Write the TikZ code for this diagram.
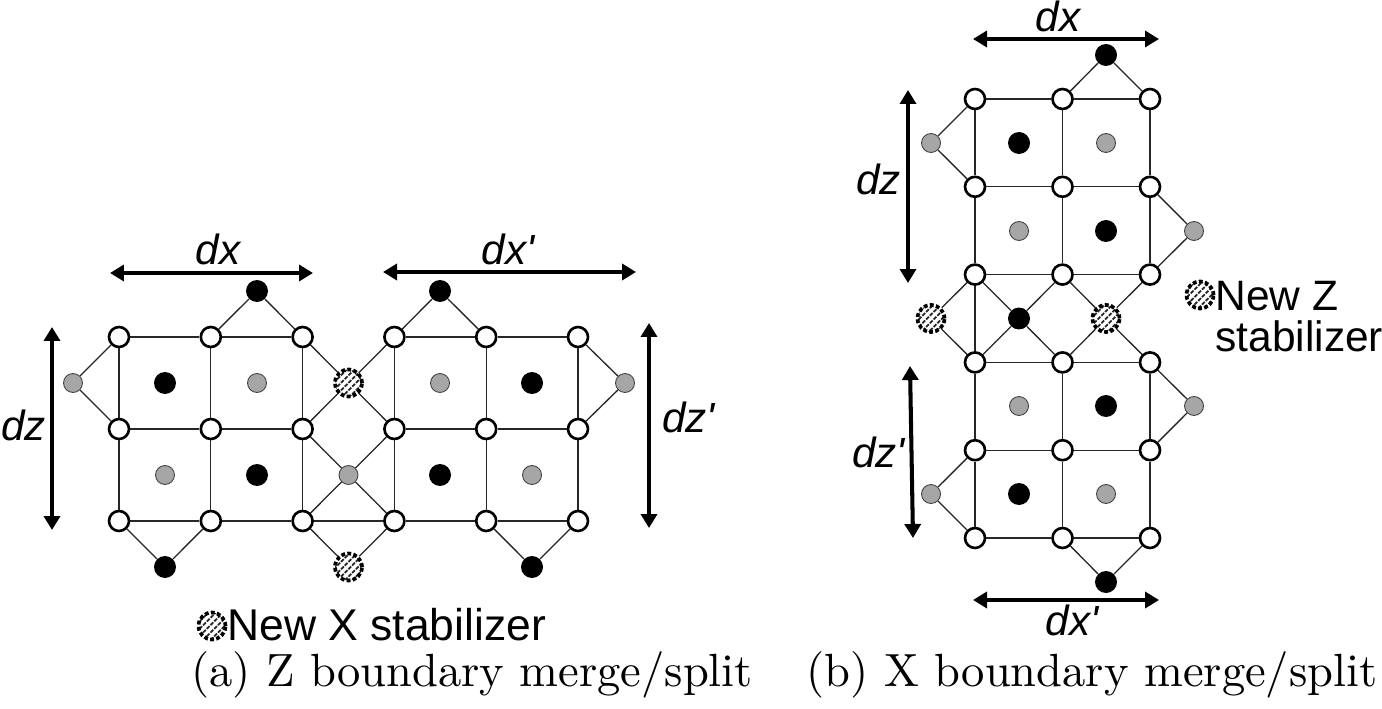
\documentclass[tikz,border=0pt]{standalone}
\usepackage{fontspec}
\newfontfamily\arialfont{Liberation Sans}
\newfontfamily\capfont{lmroman10-regular.otf}
\usetikzlibrary{arrows.meta,patterns.meta}

\begin{document}
\begin{tikzpicture}[x=0.02cm, y=-0.02cm,
    dataq/.style={circle, draw=black, line width=1.5pt, fill=white, minimum size=0.4cm, inner sep=0pt},
    xstab/.style={circle, fill=black, minimum size=0.44cm, inner sep=0pt},
    zstab/.style={circle, draw=black!75, line width=0.5pt, fill=black!35, minimum size=0.38cm, inner sep=0pt},
    newstab/.style={circle, draw=black, line width=2.1pt, dash pattern=on 2.2pt off 1.3pt, preaction={fill=white},
        pattern={Lines[angle=45, distance=3pt, line width=1pt]}, pattern color=black!85, minimum size=0.54cm, inner sep=0pt},
    link/.style={line width=0.75pt, draw=black!85},
    dimarrow/.style={line width=2.3pt, {Triangle[length=0.28cm,width=0.32cm]}-{Triangle[length=0.28cm,width=0.32cm]}},
    lbl/.style={font=\arialfont\itshape\fontsize{24}{28}\selectfont, inner sep=0pt},
    legtext/.style={font=\arialfont\fontsize{#1}{23.4}\selectfont, inner sep=0pt},
    capt/.style={font=\capfont\fontsize{26.5}{30}\selectfont, inner sep=0pt}]
    \useasboundingbox (0,0) rectangle (1382,709);

    % (a) data qubits
    \foreach \c in {1,...,6}
        \foreach \r in {1,2,3}
            \node[dataq] (a\c\r) at ({27.2+91.8*\c},{245+92*\r}) {};
    \foreach \r in {1,2,3}
        \foreach \c/\d in {1/2,2/3,4/5,5/6}
            \draw[link] (a\c\r) -- (a\d\r);
    \foreach \c in {1,...,6}
        \foreach \r/\s in {1/2,2/3}
            \draw[link] (a\c\r) -- (a\c\s);
    \draw[link] (a33) -- (a43);

    % (a) boundary stabilizers
    \node[xstab] (ax1) at (257,291) {};
    \node[xstab] (ax2) at (440,291) {};
    \node[xstab] (ax3) at (165,567) {};
    \node[xstab] (ax4) at (532,567) {};
    \node[zstab] (az1) at (73,383) {};
    \node[zstab] (az2) at (625,383) {};
    \draw[link] (a21) -- (ax1) -- (a31);
    \draw[link] (a41) -- (ax2) -- (a51);
    \draw[link] (a13) -- (ax3) -- (a23);
    \draw[link] (a53) -- (ax4) -- (a63);
    \draw[link] (a11) -- (az1) -- (a12);
    \draw[link] (a61) -- (az2) -- (a62);

    % (a) bulk stabilizers
    \foreach \x/\y/\s [count=\i] in {165/383/xstab, 257/383/zstab, 165/475/zstab, 257/475/xstab,
        440/383/zstab, 532/383/xstab, 440/475/xstab, 532/475/zstab}
        \node[\s] (ap\i) at (\x,\y) {};

    % (a) merged region
    \node[newstab] (anew1) at (348.5,383) {};
    \node[zstab] (amid) at (348.5,475) {};
    \node[newstab] (anew2) at (348.5,567) {};
    \draw[link] (a31) -- (anew1) -- (a42);
    \draw[link] (a41) -- (anew1) -- (a32);
    \draw[link] (a32) -- (amid) -- (a43);
    \draw[link] (a42) -- (amid) -- (a33);
    \draw[link] (a33) -- (anew2) -- (a43);

    % (a) distances
    \coordinate (dxaL) at (110,273);
    \coordinate (dxaR) at (313,273);
    \coordinate (dxpaL) at (383,272);
    \coordinate (dxpaR) at (636,272);
    \coordinate (dzaT) at (52,327);
    \coordinate (dzaB) at (52,530);
    \coordinate (dzpaT) at (649,323);
    \coordinate (dzpaB) at (649,528);
    \draw[dimarrow] (dxaL) -- (dxaR);
    \draw[dimarrow] (dxpaL) -- (dxpaR);
    \draw[dimarrow] (dzaT) -- (dzaB);
    \draw[dimarrow] (dzpaT) -- (dzpaB);
    \node[lbl, anchor=base] (dxa) at (218,265) {dx};
    \node[lbl, anchor=base] (dxpa) at (508,265) {dx'};
    \node[lbl, anchor=base east] (dza) at (46,440) {dz};
    \node[lbl, anchor=base west] (dzpa) at (662,432) {dz'};

    % (a) legend and caption
    \node[newstab] (akey) at (212,626) {};
    \node[legtext=25.3, anchor=base west] (akeytxt) at (227,640) {New X stabilizer};
    \node[capt, anchor=base] (capa) at (472,686) {(a) Z boundary merge/split};

    % (b) data qubits
    \foreach \c in {1,2,3}
        \foreach \r in {1,...,6}
            \node[dataq] (b\c\r) at ({887.5+87.5*\c},{11.2+87.8*\r}) {};
    \foreach \r in {1,...,6}
        \foreach \c/\d in {1/2,2/3}
            \draw[link] (b\c\r) -- (b\d\r);
    \foreach \c in {1,2,3}
        \foreach \r/\s in {1/2,2/3,4/5,5/6}
            \draw[link] (b\c\r) -- (b\c\s);
    \draw[link] (b13) -- (b14);

    % (b) boundary stabilizers
    \node[xstab] (bx1) at (1106,55) {};
    \node[xstab] (bx2) at (1106,582) {};
    \node[zstab] (bz1) at (931,143) {};
    \node[zstab] (bz2) at (1194,231) {};
    \node[zstab] (bz3) at (1194,406) {};
    \node[zstab] (bz4) at (931,494) {};
    \draw[link] (b21) -- (bx1) -- (b31);
    \draw[link] (b26) -- (bx2) -- (b36);
    \draw[link] (b11) -- (bz1) -- (b12);
    \draw[link] (b32) -- (bz2) -- (b33);
    \draw[link] (b34) -- (bz3) -- (b35);
    \draw[link] (b15) -- (bz4) -- (b16);

    % (b) bulk stabilizers
    \foreach \x/\y/\s [count=\i] in {1019/143/xstab, 1106/143/zstab, 1019/231/zstab, 1106/231/xstab,
        1019/406/zstab, 1106/406/xstab, 1019/494/xstab, 1106/494/zstab}
        \node[\s] (bp\i) at (\x,\y) {};

    % (b) merged region
    \node[newstab] (bnew1) at (931,318.5) {};
    \node[xstab] (bmid) at (1019,318.5) {};
    \node[newstab] (bnew2) at (1106,318.5) {};
    \draw[link] (b13) -- (bnew1) -- (b14);
    \draw[link] (b13) -- (bmid) -- (b24);
    \draw[link] (b23) -- (bmid) -- (b14);
    \draw[link] (b23) -- (bnew2) -- (b34);
    \draw[link] (b33) -- (bnew2) -- (b24);

    % (b) distances
    \coordinate (dxbL) at (973,39);
    \coordinate (dxbR) at (1159,39);
    \coordinate (dzbT) at (908,90);
    \coordinate (dzbB) at (908,283);
    \coordinate (dzpbT) at (910,366);
    \coordinate (dzpbB) at (913,538);
    \coordinate (dxpbL) at (973,600);
    \coordinate (dxpbR) at (1159,600);
    \draw[dimarrow] (dxbL) -- (dxbR);
    \draw[dimarrow] (dzbT) -- (dzbB);
    \draw[dimarrow] (dzpbT) -- (dzpbB);
    \draw[dimarrow] (dxpbL) -- (dxpbR);
    \node[lbl, anchor=base] (dxb) at (1058,32) {dx};
    \node[lbl, anchor=base east] (dzb) at (901,195) {dz};
    \node[lbl, anchor=base east] (dzpb) at (905,467) {dz'};
    \node[lbl, anchor=base] (dxpb) at (1072,635) {dx'};

    % (b) legend and caption
    \node[newstab] (bkey) at (1200,295) {};
    \node[legtext=24.2, anchor=north west, align=left] (bkeytxt) at (1215,281) {New Z\\stabilizer};
    \node[capt, anchor=base] (capb) at (1092,686) {(b) X boundary merge/split};
\end{tikzpicture}
\end{document}
